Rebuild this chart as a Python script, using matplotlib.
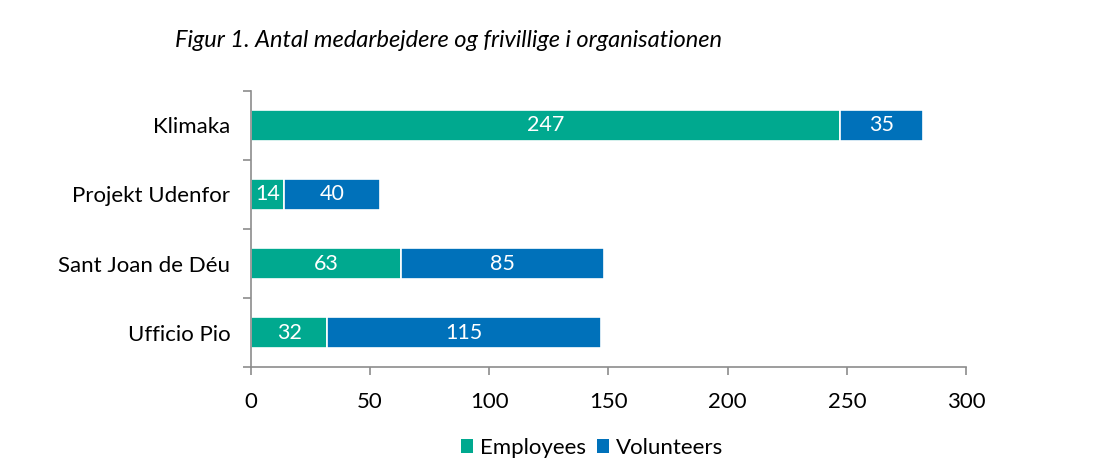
import matplotlib
matplotlib.use('Agg')
import matplotlib.pyplot as plt
import numpy as np

plt.rcParams['font.family'] = ['Lato', 'DejaVu Sans']

organisations = ['Klimaka', 'Projekt Udenfor', 'Sant Joan de Déu', 'Ufficio Pio']
employees = [247, 14, 63, 32]
volunteers = [35, 40, 85, 115]

teal = '#00A98F'
blue = '#0071BA'
grey = '#8C8C8C'

fig = plt.figure(figsize=(11.11, 4.63), dpi=100)
ax = fig.add_axes([0.2259, 0.2073, 0.8695 - 0.2259, 0.8035 - 0.2073])

y = np.arange(len(organisations))[::-1]
b1 = ax.barh(y, employees, height=0.44, color=teal, edgecolor='white', linewidth=1.2, label='Employees')
b2 = ax.barh(y, volunteers, left=employees, height=0.44, color=blue, edgecolor='white', linewidth=1.2, label='Volunteers')
for bars in (b1, b2):
    ax.bar_label(bars, label_type='center', color='white', fontsize=15.5)

ax.set_xlim(0, 300)
ax.set_ylim(-0.5, len(organisations) - 0.5)
ax.set_xticks(np.arange(0, 301, 50))
ax.set_yticks(y)
ax.set_yticklabels(organisations)
ax.set_yticks(np.arange(-0.5, len(organisations), 1), minor=True)
ax.tick_params(axis='y', which='major', length=0, pad=15, labelsize=16)
ax.tick_params(axis='y', which='minor', length=6, color=grey, width=1.2)
ax.tick_params(axis='x', length=6, color=grey, width=1.2, labelsize=16, pad=12)
for s in ('top', 'right'):
    ax.spines[s].set_visible(False)
for s in ('left', 'bottom'):
    ax.spines[s].set_color(grey)
    ax.spines[s].set_linewidth(1.2)

fig.text(0.1575, 0.913, 'Figur 1. Antal medarbejdere og frivillige i organisationen',
         fontsize=17, style='italic', va='center', ha='left')

leg = fig.legend(handles=[b1, b2], loc='center', bbox_to_anchor=(0.533, 0.033), ncol=2,
                 frameon=False, fontsize=16, handlelength=0.55, handleheight=0.55,
                 handletextpad=0.3, columnspacing=0.5)
for h in leg.legend_handles:
    h.set_edgecolor('none')

plt.savefig('out.png', dpi=100)
